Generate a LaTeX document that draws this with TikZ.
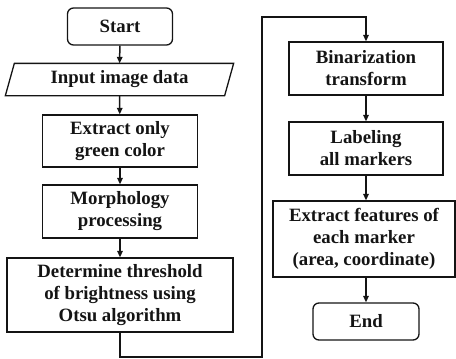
\documentclass[tikz,border=0pt]{standalone}
\usepackage{fontspec}
\setmainfont{Liberation Serif}
\usetikzlibrary{arrows.meta, positioning, calc}
\definecolor{mydark}{RGB}{20,20,20}
\tikzset{
  block/.style={rectangle, draw=mydark, text=mydark, align=center, inner sep=0pt, font=\fontsize{18.8}{22}\selectfont\bfseries, line width=1.3pt},
  termblock/.style={block, rounded corners=6pt},
  ioblock/.style={block, draw=none},
  arrow/.style={-{Triangle[length=6.5pt,width=5.5pt]}, line width=1.5pt, color=mydark},
  line/.style={line width=1.3pt, color=mydark}
}

\begin{document}
\begin{tikzpicture}[x=1pt, y=-1pt]
  \useasboundingbox (0,0) rectangle (456,359);

  % Left column
  \node[termblock, minimum width=105pt, minimum height=37pt] (start) at (120,26.5) {Start};
  \node[ioblock, minimum width=218pt, minimum height=31pt] (input) at (119.5,79.5) {Input image data};
  \draw[line] ([xshift=-4.5pt]input.south west) -- ([xshift=4.5pt]input.north west) -- ([xshift=4.5pt]input.north east) -- ([xshift=-4.5pt]input.south east) -- cycle;
  \node[block, minimum width=155pt, minimum height=52pt] (green) at (120,141) {Extract only\\green color};
  \node[block, minimum width=155pt, minimum height=53pt] (morph) at (120,211.5) {Morphology\\processing};
  \node[block, minimum width=226pt, minimum height=74pt] (otsu) at (120,295) {Determine threshold\\of brightness using\\Otsu algorithm};

  % Right column
  \node[block, minimum width=154pt, minimum height=53pt] (binar) at (366,68.5) {Binarization\\transform};
  \node[block, minimum width=154pt, minimum height=53pt] (label) at (366,148.5) {Labeling\\all markers};
  \node[block, minimum width=182pt, minimum height=76pt] (feat) at (364,239) {Extract features of\\each marker\\(area, coordinate)};
  \node[termblock, minimum width=106pt, minimum height=37pt] (fin) at (366,321.5) {End};

  % Turn points
  \coordinate (lowturn) at (262,357);
  \coordinate (topturn) at (262,17);

  % Arrows
  \draw[arrow] (start) -- (input);
  \draw[arrow] (input) -- (green);
  \draw[arrow] (green) -- (morph);
  \draw[arrow] (morph) -- (otsu);
  \draw[arrow] (otsu.south) |- (lowturn) -- (topturn) -| (binar.north);
  \draw[arrow] (binar) -- (label);
  \draw[arrow] (label.south) -- (label.south |- feat.north);
  \draw[arrow] (feat.south -| fin.north) -- (fin.north);
\end{tikzpicture}
\end{document}
